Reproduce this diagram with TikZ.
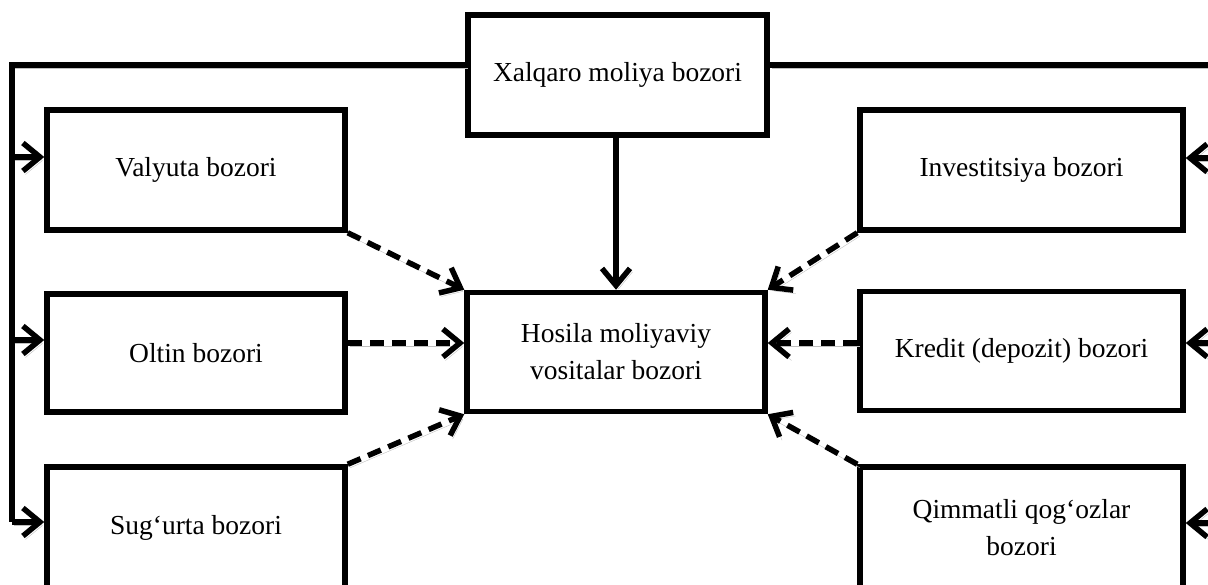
\documentclass[tikz,border=0pt]{standalone}
\usepackage{fontspec}
\setmainfont{Liberation Serif}
\usetikzlibrary{arrows.meta}
\begin{document}
\begin{tikzpicture}[x=1pt,y=-1pt,
  box/.style={draw, line width=5.5pt, fill=white, align=center, inner sep=0pt,
    font=\fontsize{27.5}{37}\selectfont},
  leftbox/.style={box, minimum width=298pt},
  rightbox/.style={box, minimum width=323pt},
  conn/.style={line width=5.5pt,
    preaction={draw=gray!50, transform canvas={shift={(2.5pt,-3.5pt)}}}},
  tip/.style={-{Straight Barb[length=17pt,width=28pt]}},
  dashconn/.style={conn, tip, dash pattern=on 14pt off 8pt}
]
\useasboundingbox (0,0) rectangle (1208,584);
\clip (0,0) rectangle (1208,584);

% bus coordinates on both sides
\coordinate (lbtop) at (12,65);
\coordinate (lbbot) at (12,522);
\coordinate (rbtop) at (1220,65);
\coordinate (la1) at (12,157);
\coordinate (la2) at (12,340);
\coordinate (ra1) at (1220,158);
\coordinate (ra2) at (1220,343);
\coordinate (ra3) at (1220,523);
\coordinate (midy) at (616,343);

% boxes
\node[box, minimum width=299pt, minimum height=120pt] (xal) at (617.5,75) {Xalqaro moliya bozori};
\node[leftbox, minimum height=120pt] (val) at (196,170) {Valyuta bozori};
\node[leftbox, minimum height=118pt] (olt) at (196,353) {Oltin bozori};
\node[leftbox, minimum height=122pt] (sug) at (196,528) {Sug‘urta bozori};
\node[box, minimum width=298pt, minimum height=119pt] (hos) at (616,352) {Hosila moliyaviy\\vositalar bozori};
\node[rightbox, minimum height=120pt] (inv) at (1021.5,170) {Investitsiya bozori};
\node[rightbox, minimum height=119pt] (kre) at (1021.5,351) {Kredit (depozit) bozori};
\node[rightbox, minimum height=122pt] (qim) at (1021.5,528) {Qimmatli qog‘ozlar\\bozori};

% left distribution bus
\draw[conn] (xal.west |- lbtop) -- (lbtop) -- (lbbot);
\draw[conn, tip] (lbbot) -- (lbbot -| sug.west);
\draw[conn, tip] (la1) -- (la1 -| val.west);
\draw[conn, tip] (la2) -- (la2 -| olt.west);

% right distribution bus
\draw[conn] (xal.east |- rbtop) -- (rbtop);
\draw[conn, tip] (ra1) -- (ra1 -| inv.east);
\draw[conn, tip] (ra2) -- (ra2 -| kre.east);
\draw[conn, tip] (ra3) -- (ra3 -| qim.east);

% main link
\draw[conn, tip] (xal.south -| hos.north) -- (hos.north);

% dashed links into the derivatives market
\draw[dashconn] (val.south east) -- (hos.north west);
\draw[dashconn] (midy -| olt.east) -- (midy -| hos.west);
\draw[dashconn] (sug.north east) -- (hos.south west);
\draw[dashconn] (inv.south west) -- (hos.north east);
\draw[dashconn] (midy -| kre.west) -- (midy -| hos.east);
\draw[dashconn] (qim.north west) -- (hos.south east);
\end{tikzpicture}
\end{document}
